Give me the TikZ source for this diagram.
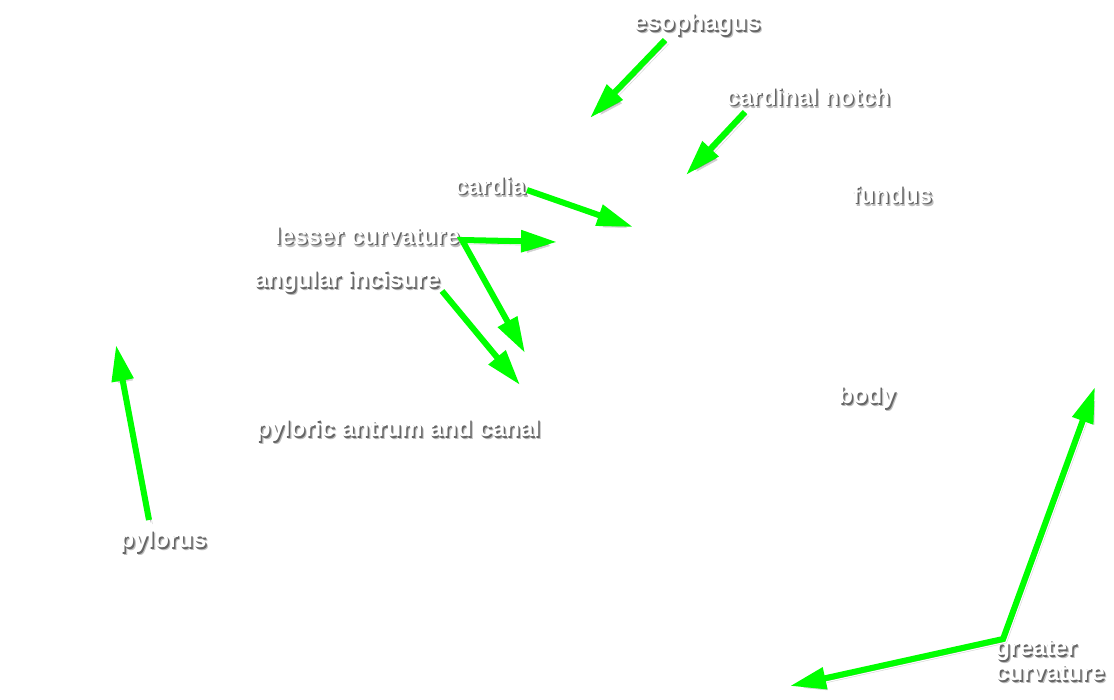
\documentclass[tikz,border=0pt]{standalone}
\usepackage{fontspec}
\setmainfont{Liberation Sans}
\usepackage{tikz}
\usetikzlibrary{calc,arrows.meta}
\definecolor{arrowgreen}{RGB}{0,255,0}
\newcommand{\shadowtext}[1]{%
    \rlap{\kern2.6pt\raisebox{-3pt}{\color{black!25}#1}}%
    \rlap{\kern1.5pt\raisebox{-1.8pt}{\color{black!60}#1}}#1}

\begin{document}
\begin{tikzpicture}[x=1pt, y=-1pt,
    lbl/.style = {font=\bfseries\fontsize{24}{21}\selectfont, text=white, inner sep=0pt, align=left},
    bigtri/.tip = {Triangle[length=36pt, width=21pt]},
    pointer/.style = {draw=arrowgreen, line width=6pt, -bigtri,
        preaction={draw=black!18, transform canvas={shift={(3.5pt,-4pt)}}},
        preaction={draw=black!45, transform canvas={shift={(2pt,-2.5pt)}}}}]

        \useasboundingbox[fill=white] (0,0) rectangle (1114,700);

        %Labels
        \node[lbl] (esophagus) at (697,26) {\shadowtext{esophagus}};
        \node[lbl] (notch) at (808,98) {\shadowtext{cardinal notch}};
        \node[lbl] (cardia) at (490,187) {\shadowtext{cardia}};
        \node[lbl] (fundus) at (892,196) {\shadowtext{fundus}};
        \node[lbl] (lesser) at (367,237) {\shadowtext{lesser curvature}};
        \node[lbl] (angular) at (347,283) {\shadowtext{angular incisure}};
        \node[lbl] (body) at (867,399) {\shadowtext{body}};
        \node[lbl] (antrum) at (398,432) {\shadowtext{pyloric antrum and canal}};
        \node[lbl] (pylorus) at (163,543) {\shadowtext{pylorus}};
        \node[lbl] (greater) at (1050,662) {\shadowtext{greater}\\\shadowtext{curvature}};

        %Arrow ends
        \coordinate (esophagus-tip) at (590,118);
        \coordinate (notch-tip) at (686,175);
        \coordinate (cardia-tip) at (633,227);
        \coordinate (lesser-tip1) at (557,242);
        \coordinate (lesser-tip2) at (525,353);
        \coordinate (angular-tip) at (520,385);
        \coordinate (pylorus-tip) at (116,345);
        \coordinate (greater-tip1) at (1095,387);
        \coordinate (greater-tip2) at (790,686);

        %Arrows
        \draw[pointer] ($(esophagus)+(-32,14)$) -- (esophagus-tip);
        \draw[pointer] ($(notch)+(-63,14)$) -- (notch-tip);
        \draw[pointer] ($(cardia)+(37,3)$) -- (cardia-tip);
        \draw[pointer, bigtri-bigtri] (lesser-tip1) -- ($(lesser)+(95,3)$) -- (lesser-tip2);
        \draw[pointer] ($(angular)+(95,8)$) -- (angular-tip);
        \draw[pointer] ($(pylorus)+(-14,-23)$) -- (pylorus-tip);
        \draw[pointer, bigtri-bigtri] (greater-tip1) -- ($(greater)+(-47,-23)$) -- (greater-tip2);
\end{tikzpicture}
\end{document}
